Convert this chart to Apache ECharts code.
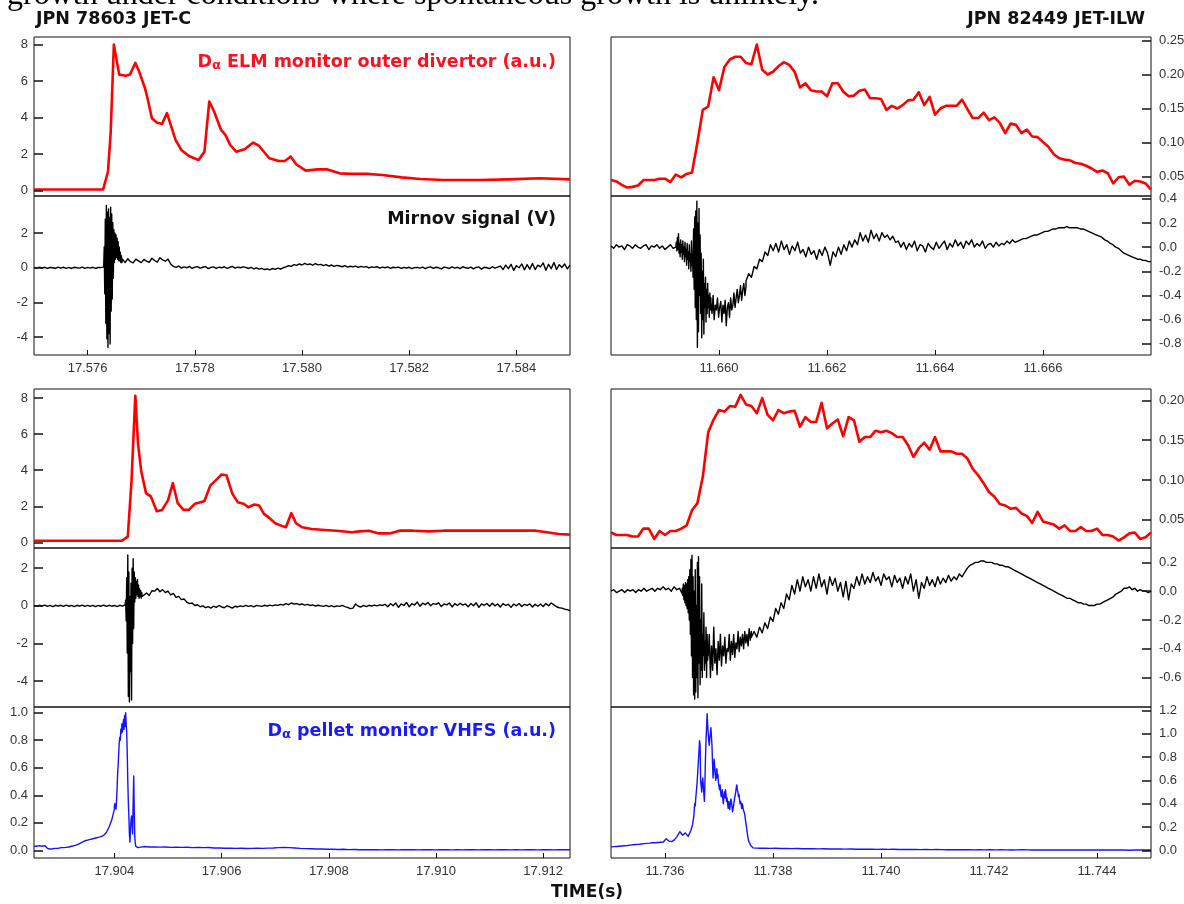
<!DOCTYPE html>
<html>
<head>
<meta charset="utf-8">
<script src="https://cdn.jsdelivr.net/npm/echarts@6/dist/echarts.min.js"></script>
<style>
  html, body { margin: 0; padding: 0; background: #fff; }
  #chart { width: 1184px; height: 904px; }
</style>
</head>
<body>
<div id="chart"></div>
<script>
// ---------------- time windows (s) ----------------
const winC_top = [17.575, 17.585];
const winW_top = [11.658, 11.668];
const winC_bot = [17.9025, 17.9125];
const winW_bot = [11.735, 11.745];

// ---------------- tick labels ----------------
const xTicksC_top = ['17.576', '17.578', '17.580', '17.582', '17.584'];
const xTicksW_top = ['11.660', '11.662', '11.664', '11.666'];
const xTicksC_bot = ['17.904', '17.906', '17.908', '17.910', '17.912'];
const xTicksW_bot = ['11.736', '11.738', '11.740', '11.742', '11.744'];

const yTicksElmC = ['0', '2', '4', '6', '8'];
const yTicksMirC = ['-4', '-2', '0', '2'];
const yTicksElmW_top = ['0.05', '0.10', '0.15', '0.20', '0.25'];
const yTicksMirW_top = ['-0.8', '-0.6', '-0.4', '-0.2', '0.0', '0.2', '0.4'];
const yTicksElmW_bot = ['0.05', '0.10', '0.15', '0.20'];
const yTicksMirW_bot = ['-0.6', '-0.4', '-0.2', '0.0', '0.2'];
const yTicksPelC = ['0.0', '0.2', '0.4', '0.6', '0.8', '1.0'];
const yTicksPelW = ['0.0', '0.2', '0.4', '0.6', '0.8', '1.0', '1.2'];

// ---------------- JPN 78603, first ELM: D-alpha outer divertor ----------------
const elmC1_t = [17.57500,17.57629,17.57638,17.57643,17.57649,17.57659,17.57671,17.57679,17.57689,17.57696,
  17.57707,17.57711,17.57720,17.57729,17.57739,17.57748,17.57754,17.57764,17.57775,17.57789,
  17.57807,17.57818,17.57827,17.57836,17.57849,17.57857,17.57866,17.57877,17.57893,17.57909,
  17.57920,17.57939,17.57957,17.57968,17.57979,17.57989,17.58007,17.58029,17.58046,17.58070,
  17.58093,17.58121,17.58150,17.58186,17.58221,17.58264,17.58329,17.58386,17.58443,17.58500];
const elmC1_v = [0.07,0.07,1.04,3.15,8.0,6.36,6.3,6.36,7.0,6.54,
  5.62,5.16,3.97,3.74,3.66,4.25,3.7,2.78,2.23,1.9,
  1.68,2.14,4.89,4.34,3.33,3.06,2.51,2.14,2.27,2.64,
  2.45,1.78,1.63,1.63,1.87,1.45,1.1,1.17,1.17,0.95,
  0.92,0.92,0.86,0.73,0.64,0.59,0.59,0.62,0.68,0.62];

// Mirnov, JPN 78603 first ELM: quiet / burst / after
const mirC1_edges = [17.575, 17.5763, 17.57665, 17.585];
const mirC1_pre = [0.02,-0.03,0.04,-0.02,0.03,-0.04,0.02,0.0,-0.03,0.04,-0.02,0.03,-0.03,0.02,-0.04,0.03,0.0,-0.02,0.04,-0.03,0.02,-0.02,0.03,-0.04,0.02,0.01,0.05];
const mirC1_burst = [0.1,1.2,-1.5,2.8,-3.2,3.6,-4.1,3.2,-4.6,3.4,-3.8,2.9,-4.4,3.5,-2.5,3.1,-1.8,2.6,-0.6,2.2,0.3,2.0,0.5,1.9,0.6,1.7,0.5,1.5,0.4,1.2,0.4,0.9,0.3,0.7,0.3,0.5];
const mirC1_post = [0.45,0.3,0.52,0.35,0.28,0.5,0.4,0.3,0.48,0.38,0.32,0.55,0.42,0.33,0.58,0.45,0.38,0.5,0.22,
  0.08,0.02,0.1,-0.02,0.05,0.0,0.08,-0.04,0.04,0.06,-0.02,0.03,0.07,-0.05,0.02,0.05,-0.03,0.04,0.0,0.06,-0.04,0.03,0.08,-0.02,0.04,0.0,0.05,
  0.02,-0.04,0.03,-0.06,0.0,-0.08,-0.03,-0.1,-0.06,-0.12,-0.04,-0.09,-0.02,-0.07,0.0,
  0.05,0.12,0.08,0.18,0.14,0.22,0.16,0.25,0.18,0.22,0.15,0.24,0.17,0.2,0.12,0.18,0.1,0.16,0.08,0.14,
  0.1,0.06,0.12,0.04,0.09,0.05,0.1,0.02,0.08,0.04,0.07,-0.01,0.05,0.02,0.06,-0.02,0.04,0.0,0.05,-0.03,0.03,0.01,0.04,-0.04,0.02,-0.01,0.03,-0.05,0.01,0.02,
  -0.02,0.04,-0.05,0.02,0.05,-0.03,0.03,0.0,-0.06,0.04,0.01,-0.04,0.05,-0.02,0.03,-0.05,0.06,0.0,-0.03,0.04,-0.06,0.02,0.05,-0.08,0.03,0.0,-0.05,0.06,-0.02,0.04,
  0.1,-0.1,0.15,-0.05,0.2,-0.15,0.12,0.0,0.22,-0.12,0.18,-0.08,0.25,-0.1,0.15,0.05,0.28,-0.14,0.2,-0.05,0.3,-0.1,0.18,0.02,0.22,-0.06,0.15];

// ---------------- JPN 82449, first ELM ----------------
// D-alpha outer divertor, sampled every 0.1 ms across the window
const elmW1_v = [0.045,0.043,0.038,0.034,0.035,0.037,0.045,0.045,0.045,0.047,
  0.047,0.042,0.053,0.049,0.054,0.056,0.100,0.148,0.153,0.196,
  0.177,0.211,0.222,0.226,0.226,0.217,0.215,0.244,0.207,0.200,
  0.204,0.212,0.218,0.214,0.204,0.181,0.187,0.177,0.175,0.175,
  0.168,0.187,0.187,0.175,0.168,0.169,0.176,0.178,0.165,0.165,
  0.164,0.148,0.154,0.150,0.155,0.162,0.163,0.174,0.155,0.167,
  0.141,0.150,0.154,0.154,0.154,0.163,0.149,0.136,0.136,0.144,
  0.133,0.137,0.129,0.114,0.128,0.126,0.114,0.119,0.109,0.108,
  0.101,0.094,0.083,0.077,0.075,0.074,0.070,0.069,0.066,0.062,
  0.057,0.059,0.055,0.040,0.049,0.050,0.038,0.044,0.043,0.040,
  0.031];

const mirW1_edges = [11.658, 11.6592, 11.65952, 11.65985, 11.6605, 11.668];
const mirW1_a = [0.01,-0.01,0.02,0.0,0.01,-0.02,0.02,0.01,-0.01,0.02,0.0,-0.01,0.01,0.02,-0.02,0.01,0.0,0.02,-0.01,0.01,-0.02,0.0,0.02,-0.01,0.0];
const mirW1_b = [0.0,0.04,-0.03,0.08,-0.02,0.11,-0.05,0.03,-0.08,0.06,-0.04,0.02,-0.1,0.05,-0.06,0.0,-0.12,0.04,-0.08,-0.02,-0.15,0.03,-0.1,-0.04,-0.18,0.02,-0.12,-0.06,-0.2,0.05,-0.15,-0.08,-0.25];
const mirW1_c = [-0.1,0.15,-0.35,0.25,-0.5,0.3,-0.6,0.38,-0.83,0.2,-0.7,0.32,-0.4,0.1,-0.55,-0.05,-0.75,-0.2,-0.6,-0.1,-0.72,-0.3,-0.5,-0.25,-0.62,-0.35,-0.55,-0.3,-0.5,-0.4,-0.58,-0.38,-0.52,-0.42];
const mirW1_d = [-0.45,-0.55,-0.4,-0.6,-0.48,-0.52,-0.42,-0.58,-0.5,-0.45,-0.62,-0.48,-0.55,-0.44,-0.65,-0.5,-0.46,-0.58,-0.42,-0.52,-0.48,-0.38,-0.5,-0.42,-0.35,-0.46,-0.4,-0.32,-0.44,-0.36,-0.3,-0.4,-0.33];
const mirW1_e = [-0.28,-0.22,-0.25,-0.16,-0.18,-0.1,-0.12,-0.04,-0.07,0.02,-0.03,
  0.03,-0.04,0.05,-0.02,0.02,-0.06,0.01,-0.03,0.04,-0.05,-0.02,-0.08,0.0,-0.06,-0.03,-0.1,-0.02,-0.07,0.0,-0.05,-0.15,-0.04,-0.08,0.0,-0.06,0.02,-0.03,0.05,0.0,
  0.06,0.02,0.12,0.05,0.1,0.04,0.14,0.07,0.11,0.05,0.12,0.08,0.1,0.06,0.09,0.04,
  0.05,0.0,0.04,-0.02,0.03,0.0,0.05,-0.03,0.02,0.01,-0.04,0.03,0.0,-0.02,0.04,-0.01,0.02,0.05,-0.02,0.03,0.0,0.06,0.01,0.04,-0.01,0.05,0.02,0.06,0.0,0.03,0.01,0.05,-0.01,0.02,0.03,0.0,0.04,0.01,0.03,0.02,0.05,0.03,0.06,0.04,
  0.05,0.06,0.07,0.07,0.08,0.09,0.1,0.1,0.11,0.12,0.13,0.13,0.14,0.15,0.15,0.16,0.16,0.16,0.17,0.16,
  0.16,0.16,0.16,0.15,0.15,0.14,0.13,0.12,0.11,0.1,0.09,0.08,0.06,0.05,0.03,0.02,0.0,-0.01,-0.03,-0.05,-0.06,-0.07,-0.08,-0.09,-0.1,-0.1,-0.11,-0.11,-0.12,-0.12];

// ---------------- JPN 78603, pellet-triggered ELM ----------------
const elmC2_t = [17.90250,17.90414,17.90425,17.90432,17.90439,17.90444,17.90450,17.90459,17.90468,17.90479,
  17.90489,17.90500,17.90509,17.90518,17.90529,17.90539,17.90550,17.90561,17.90568,17.90579,
  17.90589,17.90600,17.90609,17.90620,17.90630,17.90641,17.90650,17.90661,17.90670,17.90679,
  17.90689,17.90700,17.90711,17.90720,17.90730,17.90739,17.90750,17.90768,17.90793,17.90814,
  17.90843,17.90857,17.90875,17.90893,17.90914,17.90932,17.90957,17.90986,17.91014,17.91043,
  17.91079,17.91114,17.91150,17.91186,17.91207,17.91229,17.91250];
const elmC2_v = [0.09,0.09,0.32,3.44,8.13,5.49,3.96,2.73,2.55,1.73,
  1.8,2.33,3.29,2.18,1.8,1.8,2.14,2.23,2.29,3.16,
  3.44,3.76,3.72,2.7,2.23,2.14,1.95,2.1,2.05,1.58,
  1.36,1.06,0.93,0.84,1.62,1.06,0.84,0.74,0.69,0.65,
  0.56,0.61,0.65,0.5,0.5,0.65,0.65,0.61,0.65,0.65,
  0.65,0.65,0.65,0.65,0.56,0.47,0.43];

const mirC2_edges = [17.9025, 17.9042, 17.90455, 17.9125];
const mirC2_a = [0.02,-0.03,0.03,-0.02,0.04,-0.03,0.02,-0.04,0.03,-0.02,0.03,-0.03,0.04,-0.02,0.02,-0.04,0.03,-0.02,0.04,-0.03,0.02,-0.03,0.03,-0.04,0.02,-0.02,0.04,-0.03,0.03,-0.02,0.02,-0.04,0.03,-0.02,0.05];
const mirC2_b = [0.05,0.3,-0.8,1.5,-2.5,2.7,-4.8,1.8,-5.1,0.5,-3.5,1.2,-5.0,2.0,-2.0,2.5,-1.2,1.8,0.2,1.5,0.4,1.3,0.6,1.4,0.5,1.1,0.4,0.9,0.5,0.8,0.4,0.7,0.5,0.6,0.45,0.55];
const mirC2_c = [0.5,0.68,0.55,0.8,0.78,0.92,0.75,0.86,0.7,0.78,0.58,0.66,0.45,0.5,0.33,0.36,
  0.2,0.12,0.15,0.02,0.06,-0.05,0.0,-0.1,-0.04,-0.12,-0.02,-0.08,0.02,-0.06,-0.1,0.0,-0.05,-0.12,-0.02,-0.06,
  0.0,-0.04,0.02,-0.03,0.01,-0.05,0.02,0.0,-0.03,0.03,-0.02,0.04,0.0,0.05,0.02,0.08,0.04,0.12,0.06,0.15,0.1,0.12,0.06,0.1,0.04,0.08,0.02,0.05,-0.01,0.03,0.0,-0.03,0.02,-0.04,0.01,-0.05,0.0,-0.03,0.02,-0.04,
  -0.08,-0.15,-0.12,0.1,-0.02,-0.06,0.02,-0.04,0.03,-0.02,0.04,0.0,0.05,0.02,
  0.08,-0.05,0.12,0.0,0.15,-0.08,0.1,0.02,0.18,-0.05,0.12,0.04,0.2,-0.02,0.14,0.06,0.18,0.0,0.12,0.08,0.16,-0.04,0.1,0.05,0.15,-0.06,0.12,0.02,0.14,0.04,0.1,-0.05,0.12,0.0,0.16,-0.08,0.1,0.03,0.12,-0.02,0.14,0.0,0.1,-0.06,0.12,0.02,0.08,-0.08,0.1,0.0,0.12,-0.04,0.08,0.02,0.1,-0.06,0.08,-0.02,0.1,-0.04,0.12,0.0,0.15,
  0.05,-0.05,-0.1,-0.12,-0.18,-0.2,-0.25];

// D-alpha pellet monitor (VHFS)
const pelC_edges = [17.9025, 17.904, 17.90445, 17.9125];
const pelC_a = [0.03,0.03,0.035,0.03,0.035,0.015,0.01,0.012,0.015,0.015,0.02,0.02,0.022,0.025,0.03,0.035,0.04,0.05,0.06,0.07,0.075,0.08,0.085,0.09,0.095,0.1,0.11,0.13,0.17,0.22,0.3];
const pelC_b = [0.32,0.34,0.33,0.3,0.36,0.45,0.55,0.62,0.7,0.78,0.82,0.8,0.88,0.85,0.92,0.86,0.9,0.95,0.88,0.98,0.9,1.0,0.92,0.85,0.7,0.5,0.35,0.25,0.12,0.06,0.15,0.22,0.25,0.2,0.12,0.35,0.54,0.3,0.1,0.05,0.03,0.025,0.02,0.02,0.02,0.02];
const pelC_c = [0.03,0.028,0.025,0.026,0.024,0.025,0.022,0.024,0.022,0.023,0.02,0.022,0.02,0.021,0.018,0.018,0.016,0.017,0.015,0.016,0.014,0.015,0.016,0.015,0.017,0.018,0.02,0.022,0.02,0.018,0.015,0.013,0.012,0.01,0.01,0.009,0.008,0.007,0.008,0.006,0.007,0.005,0.006,0.005,0.006,0.004,0.005,0.006,0.004,0.005,0.006,0.005,0.004,0.006,0.005,0.004,0.005,0.006,0.004,0.005,0.004,0.006,0.005,0.004,0.005,0.006,0.004,0.005,0.006,0.004,0.005,0.004,0.006,0.005,0.004,0.006,0.005,0.004,0.005,0.006,0.005];

// ---------------- JPN 82449, pellet-triggered ELM ----------------
const elmW2_v = [0.034,0.031,0.031,0.031,0.029,0.029,0.039,0.039,0.026,0.036,
  0.031,0.036,0.036,0.039,0.043,0.062,0.071,0.104,0.160,0.176,
  0.188,0.186,0.193,0.192,0.207,0.195,0.193,0.184,0.203,0.182,
  0.175,0.188,0.184,0.186,0.187,0.167,0.179,0.173,0.173,0.197,
  0.165,0.171,0.176,0.155,0.179,0.175,0.148,0.154,0.154,0.162,
  0.160,0.162,0.159,0.154,0.154,0.144,0.129,0.140,0.147,0.138,
  0.154,0.136,0.136,0.136,0.133,0.133,0.127,0.114,0.106,0.096,
  0.085,0.079,0.070,0.068,0.064,0.065,0.058,0.055,0.046,0.060,
  0.048,0.046,0.044,0.039,0.043,0.036,0.036,0.041,0.036,0.036,
  0.039,0.031,0.031,0.029,0.024,0.028,0.033,0.034,0.026,0.028,
  0.034];

const mirW2_edges = [11.735, 11.73632, 11.7368, 11.7376, 11.745];
const mirW2_a = [0.0,0.01,-0.01,0.0,0.01,-0.01,0.01,0.0,0.01,-0.01,0.01,0.0,0.02,0.0,0.01,0.02,0.0,0.02,0.01,0.03,0.01,0.02,0.0,0.03,0.01,0.02,-0.02];
const mirW2_b = [0.02,-0.03,0.05,-0.06,0.04,-0.08,0.06,-0.1,0.05,-0.12,0.08,-0.15,0.1,-0.2,0.15,-0.3,0.22,-0.45,0.25,-0.6,0.1,-0.72,0.0,-0.75,0.15,-0.7,-0.1,-0.6,0.2,-0.74,0.24,-0.5,0.1,-0.65,-0.2,-0.55,0.05,-0.6,-0.3,-0.45,-0.15,-0.55,-0.35,-0.5,-0.25,-0.6,-0.3,-0.48,-0.4];
const mirW2_c = [-0.45,-0.3,-0.6,-0.38,-0.55,-0.25,-0.5,-0.4,-0.58,-0.35,-0.48,-0.3,-0.52,-0.38,-0.45,-0.32,-0.5,-0.4,-0.42,-0.3,-0.48,-0.35,-0.44,-0.3,-0.46,-0.36,-0.4,-0.28,-0.42,-0.32,-0.38,-0.3,-0.4,-0.28,-0.36,-0.3,-0.38,-0.26,-0.34,-0.28];
const mirW2_d = [-0.32,-0.28,-0.32,-0.25,-0.29,-0.22,-0.26,-0.18,-0.21,-0.12,-0.16,-0.08,-0.12,-0.02,-0.06,0.04,-0.02,0.08,0.0,0.1,0.03,
  0.08,0.0,0.1,0.02,0.12,0.03,0.08,-0.02,0.1,0.04,0.09,0.0,0.06,-0.04,0.07,-0.06,0.05,0.02,0.1,0.04,0.12,0.05,0.1,0.06,0.13,0.07,0.1,0.04,0.12,0.08,0.1,0.03,0.11,0.06,0.09,0.02,0.1,0.05,0.12,0.0,0.08,-0.05,0.06,0.02,0.1,0.04,0.08,0.03,0.1,0.05,0.09,0.06,0.11,0.07,0.1,0.08,0.12,0.1,
  0.13,0.16,0.18,0.19,0.2,0.2,0.21,0.21,0.2,0.2,0.2,0.19,0.19,0.18,0.18,0.17,0.17,0.16,0.15,0.14,
  0.13,0.12,0.11,0.1,0.09,0.08,0.07,0.06,0.05,0.04,0.03,0.02,0.01,0.0,-0.01,-0.02,-0.03,-0.04,-0.05,-0.05,-0.06,-0.07,-0.08,-0.08,-0.09,-0.09,-0.1,-0.1,-0.1,-0.09,-0.09,-0.08,-0.07,-0.06,-0.05,-0.04,-0.02,-0.01,0.0,0.02,0.02,0.03,0.01,0.02,0.0,0.01,0.0,0.0,-0.01,0.0];

const pelW_edges = [11.735, 11.73648, 11.73765, 11.745];
const pelW_a = [0.03,0.032,0.034,0.036,0.038,0.04,0.042,0.045,0.048,0.05,0.052,0.055,0.058,0.06,0.062,0.065,0.066,0.068,0.07,0.072,0.1,0.08,0.075,0.09,0.12,0.16,0.13,0.15,0.12,0.17];
const pelW_b = [0.17,0.19,0.18,0.22,0.25,0.28,0.33,0.4,0.38,0.45,
  0.5,0.55,0.62,0.7,0.78,0.85,0.94,0.9,0.6,0.55,
  0.5,0.58,0.62,0.55,0.48,0.42,0.6,0.8,0.95,1.05,
  1.17,1.08,1.0,0.94,0.9,0.96,1.0,1.05,0.98,0.9,
  0.75,0.62,0.7,0.78,0.72,0.65,0.6,0.66,0.7,0.62,
  0.65,0.58,0.55,0.52,0.56,0.5,0.46,0.48,0.52,0.44,
  0.4,0.46,0.5,0.45,0.52,0.48,0.42,0.45,0.4,0.36,
  0.42,0.38,0.35,0.4,0.44,0.42,0.38,0.33,0.34,0.38,
  0.42,0.45,0.45,0.5,0.54,0.56,0.52,0.5,0.46,0.48,
  0.44,0.4,0.42,0.4,0.36,0.4,0.38,0.35,0.34,0.32,
  0.3,0.26,0.23,0.2,0.16,0.13,0.1,0.08,0.07,0.06,
  0.05,0.04,0.03,0.025,0.024,0.022,0.021,0.02];
const pelW_c = [0.02,0.018,0.019,0.017,0.018,0.016,0.017,0.015,0.016,0.014,0.015,0.014,0.013,0.014,0.012,0.013,0.012,0.011,0.012,0.01,0.011,0.01,0.011,0.009,0.01,0.009,0.01,0.008,0.009,0.008,0.009,0.007,0.008,0.007,0.008,0.007,0.006,0.007,0.006,0.007,0.006,0.005,0.006,0.005,0.006,0.005,0.006,0.005,0.004,0.005,0.006,0.005,0.004,0.005,0.004,0.005,0.004,0.005,0.004,0.003,0.004,0.005,0.004,0.003,0.004,0.003,0.004,0.003,0.004,0.003,0.002,0.003,0.004,0.003,0.003];

// ---------------- helpers ----------------
function pairs(ts, vs) { return ts.map((t, i) => [t, vs[i]]); }
// evenly sampled record: n values spread over [t0, t1]
function sampled(t0, t1, vals) {
  const n = vals.length;
  return vals.map((v, i) => [t0 + (t1 - t0) * i / (n - 1), v]);
}
// record made of consecutive blocks with different sample rates
function blocks(edges, parts) {
  let out = [];
  parts.forEach((vals, k) => { out = out.concat(sampled(edges[k], edges[k + 1], vals)); });
  return out;
}
function tickText(ticks, v) {
  const s = ticks.find(t => Math.abs(Number(t) - v) < 1e-9);
  return s === undefined ? '' : s;
}

const RED = '#ff0000', BLACK = '#000000', BLUE = '#1414ff';
const TICK_FONT = { color: '#333', fontFamily: 'Liberation Sans, Arial, sans-serif', fontSize: 13 };

const LCOL = { left: 34, width: 536 };
const RCOL = { left: 611, width: 540 };

const panels = [
  // upper block: JPN 78603 (left) / JPN 82449 (right)
  { col: LCOL, top: 37, height: 159, x: winC_top, xt: xTicksC_top, xShow: false, y: [-0.29, 8.42], yt: yTicksElmC, side: 'left',
    data: pairs(elmC1_t, elmC1_v), color: RED, w: 2.6 },
  { col: LCOL, top: 196, height: 159, x: winC_top, xt: xTicksC_top, xShow: true, y: [-5.03, 4.14], yt: yTicksMirC, side: 'left',
    data: blocks(mirC1_edges, [mirC1_pre, mirC1_burst, mirC1_post]), color: BLACK, w: 1.4 },
  { col: RCOL, top: 37, height: 159, x: winW_top, xt: xTicksW_top, xShow: false, y: [0.0216, 0.255], yt: yTicksElmW_top, side: 'right',
    data: sampled(winW_top[0], winW_top[1], elmW1_v), color: RED, w: 2.6 },
  { col: RCOL, top: 196, height: 159, x: winW_top, xt: xTicksW_top, xShow: true, y: [-0.893, 0.423], yt: yTicksMirW_top, side: 'right',
    data: blocks(mirW1_edges, [mirW1_a, mirW1_b, mirW1_c, mirW1_d, mirW1_e]), color: BLACK, w: 1.4 },
  // lower block
  { col: LCOL, top: 389, height: 159, x: winC_bot, xt: xTicksC_bot, xShow: false, y: [-0.31, 8.5], yt: yTicksElmC, side: 'left',
    data: pairs(elmC2_t, elmC2_v), color: RED, w: 2.6 },
  { col: LCOL, top: 548, height: 159, x: winC_bot, xt: xTicksC_bot, xShow: false, y: [-5.37, 3.07], yt: yTicksMirC, side: 'left',
    data: blocks(mirC2_edges, [mirC2_a, mirC2_b, mirC2_c]), color: BLACK, w: 1.4 },
  { col: LCOL, top: 707, height: 151, x: winC_bot, xt: xTicksC_bot, xShow: true, y: [-0.055, 1.041], yt: yTicksPelC, side: 'left',
    data: blocks(pelC_edges, [pelC_a, pelC_b, pelC_c]), color: BLUE, w: 1.4 },
  { col: RCOL, top: 389, height: 159, x: winW_bot, xt: xTicksW_bot, xShow: false, y: [0.0146, 0.2144], yt: yTicksElmW_bot, side: 'right',
    data: sampled(winW_bot[0], winW_bot[1], elmW2_v), color: RED, w: 2.6 },
  { col: RCOL, top: 548, height: 159, x: winW_bot, xt: xTicksW_bot, xShow: false, y: [-0.805, 0.3], yt: yTicksMirW_bot, side: 'right',
    data: blocks(mirW2_edges, [mirW2_a, mirW2_b, mirW2_c, mirW2_d]), color: BLACK, w: 1.4 },
  { col: RCOL, top: 707, height: 151, x: winW_bot, xt: xTicksW_bot, xShow: true, y: [-0.065, 1.228], yt: yTicksPelW, side: 'right',
    data: blocks(pelW_edges, [pelW_a, pelW_b, pelW_c]), color: BLUE, w: 1.4 }
];

const grids = [], xAxes = [], yAxes = [], series = [];
panels.forEach((p, i) => {
  grids.push({ left: p.col.left, width: p.col.width, top: p.top, height: p.height,
    show: true, borderColor: '#111', borderWidth: 1, backgroundColor: 'transparent',
    containLabel: false, outerBoundsMode: 'none' });
  const xv = p.xt.map(Number);
  xAxes.push({ type: 'value', gridIndex: i, min: p.x[0], max: p.x[1], scale: true, position: 'bottom', z: 5,
    axisLine: { show: false, onZero: false }, splitLine: { show: false },
    axisTick: { show: p.xShow, inside: true, length: 5, customValues: xv, lineStyle: { color: '#111', width: 1 } },
    axisLabel: Object.assign({ show: p.xShow, customValues: xv, margin: 7, formatter: v => tickText(p.xt, v) }, TICK_FONT) });
  const yv = p.yt.map(Number);
  yAxes.push({ type: 'value', gridIndex: i, min: p.y[0], max: p.y[1], position: p.side, scale: true, z: 5,
    axisLine: { show: false, onZero: false }, splitLine: { show: false },
    axisTick: { show: true, inside: true, length: 9, customValues: yv, lineStyle: { color: '#111', width: 1.5 } },
    axisLabel: Object.assign({ show: true, customValues: yv, margin: p.side === 'left' ? 6 : 8,
      formatter: v => tickText(p.yt, v) }, TICK_FONT) });
  series.push({ type: 'line', xAxisIndex: i, yAxisIndex: i, data: p.data, symbol: 'none', showSymbol: false,
    clip: true, silent: true, lineStyle: { color: p.color, width: p.w, join: 'round' }, z: 3 });
});

const LABEL_FONT = '"DejaVu Sans", "Open Sans", sans-serif';
function dalphaLabel(rest, color, x, y) {
  return { type: 'text', z: 10, silent: true,
    style: { x: x, y: y, align: 'right', verticalAlign: 'middle',
      text: '{d|D}{s|α}{d|' + rest + '}',
      rich: {
        d: { fill: color, fontFamily: LABEL_FONT, fontWeight: 'bold', fontSize: 17.5, lineHeight: 20 },
        s: { fill: color, fontFamily: LABEL_FONT, fontWeight: 'bold', fontSize: 13, lineHeight: 11, verticalAlign: 'bottom' }
      } } };
}

const option = {
  animation: false,
  backgroundColor: '#ffffff',
  grid: grids, xAxis: xAxes, yAxis: yAxes, series: series,
  graphic: [
    { type: 'text', z: 10, silent: true, style: { x: 7, y: -4, verticalAlign: 'middle',
      text: 'growth under conditions where spontaneous growth is unlikely.',
      font: '32px "Liberation Serif", "Times New Roman", serif', fill: '#000' } },
    { type: 'text', z: 10, silent: true, style: { x: 36, y: 19.5, verticalAlign: 'middle', align: 'left',
      text: 'JPN 78603 JET-C', font: 'bold 17.5px ' + LABEL_FONT, fill: '#111' } },
    { type: 'text', z: 10, silent: true, style: { x: 1145, y: 19.5, verticalAlign: 'middle', align: 'right',
      text: 'JPN 82449 JET-ILW', font: 'bold 17.5px ' + LABEL_FONT, fill: '#111' } },
    dalphaLabel(' ELM monitor outer divertor (a.u.)', '#ff1020', 556, 62),
    { type: 'text', z: 10, silent: true, style: { x: 556, y: 219.5, verticalAlign: 'middle', align: 'right',
      text: 'Mirnov signal (V)', font: 'bold 17.5px ' + LABEL_FONT, fill: '#111' } },
    dalphaLabel(' pellet monitor VHFS (a.u.)', '#1a1aff', 556, 731),
    { type: 'text', z: 10, silent: true, style: { x: 587, y: 893, verticalAlign: 'middle', align: 'center',
      text: 'TIME(s)', font: 'bold 17px ' + LABEL_FONT, fill: '#111' } }
  ]
};

const chart = echarts.init(document.getElementById('chart'), null, { renderer: 'canvas' });
chart.setOption(option);
</script>
</body>
</html>
